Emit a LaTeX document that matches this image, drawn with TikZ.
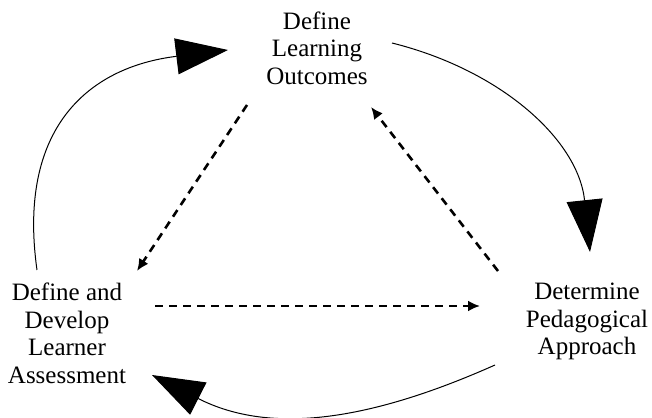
\documentclass[tikz,border=0pt]{standalone}
\usepackage{fontspec}
\newfontfamily\stagefont{Liberation Serif}
\usetikzlibrary{arrows.meta}

\begin{document}
\begin{tikzpicture}[x=1pt, y=1pt]
\tikzstyle{main}=[align=center, inner sep=0pt, font={\stagefont\fontsize{25}{27.5}\selectfont}]
\tikzstyle{cycle}=[-{Triangle[length=52pt, width=36pt]}, line width=1pt]
\tikzstyle{link}=[-{Latex[length=12pt, width=11pt]}, line width=2.6pt, dash pattern=on 8pt off 6pt]
  \useasboundingbox (0,0) rectangle (652,417);
  \node[main] (outcomes) at (317,369) {Define\\Learning\\Outcomes};
  \node[main] (assess) at (67,83.5) {Define and\\Develop\\Learner\\Assessment};
  \node[main] (approach) at (587,95.5) {Determine\\Pedagogical\\Approach};
  \path ([shift={(75,5)}]outcomes.center) edge [cycle, out=-14, in=96] ([shift={(3,69.5)}]approach.center)
        ([shift={(-92,-43.5)}]approach.center) edge [cycle, out=-156, in=-27] ([shift={(85,-41.5)}]assess.center)
        ([shift={(-30,63.5)}]assess.center) edge [cycle, out=98, in=187, looseness=1.25] ([shift={(-89,-2)}]outcomes.center);
  %dashed links inside
  \path ([shift={(-70,-57)}]outcomes.center) edge [link] ([shift={(70,62.5)}]assess.center)
        ([shift={(88,27.5)}]assess.center) edge [link] ([shift={(-107,15.5)}]approach.center)
        ([shift={(-89,50.5)}]approach.center) edge [link] ([shift={(54,-59)}]outcomes.center);
\end{tikzpicture}
\end{document}
